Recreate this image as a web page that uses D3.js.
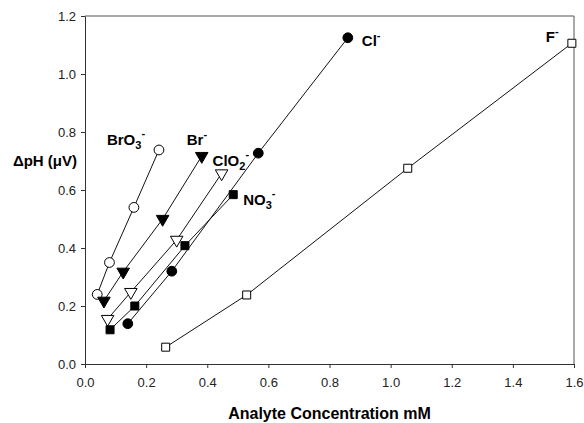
<!DOCTYPE html>
<html>
<head>
<meta charset="utf-8">
<script src="https://cdn.jsdelivr.net/npm/d3@7"></script>
<style>
  body { margin: 0; background: #fff; }
  text { font-family: "Liberation Sans", Arial, sans-serif; }
</style>
</head>
<body>
<div id="chart"></div>
<script>
// data (x in mM, y in delta pH)
const bro3X = [0.040, 0.080, 0.160, 0.242];
const bro3Y = [0.240, 0.350, 0.540, 0.738];
const brX = [0.062, 0.125, 0.254, 0.382];
const brY = [0.218, 0.318, 0.500, 0.717];
const clo2X = [0.074, 0.150, 0.300, 0.447];
const clo2Y = [0.155, 0.248, 0.428, 0.657];
const no3X = [0.082, 0.163, 0.327, 0.485];
const no3Y = [0.118, 0.200, 0.408, 0.584];
const clX = [0.140, 0.284, 0.567, 0.860];
const clY = [0.139, 0.320, 0.727, 1.125];
const fX = [0.264, 0.529, 1.056, 1.593];
const fY = [0.058, 0.238, 0.675, 1.106];

const xTicks = [0, 0.2, 0.4, 0.6, 0.8, 1.0, 1.2, 1.4, 1.6];
const yTicks = [0, 0.2, 0.4, 0.6, 0.8, 1.0, 1.2];

const seriesNames = ['BrO', 'Br', 'ClO', 'NO', 'Cl', 'F'];
const seriesSubs = ['3', '', '2', '3', '', ''];

const margin = {top: 16, right: 10, bottom: 59, left: 85};
const width = 584 - margin.left - margin.right;
const height = 423 - margin.top - margin.bottom;

const svg = d3.select('#chart').append('svg')
    .attr('width', 584)
    .attr('height', 423);

const g = svg.append('g')
    .attr('transform', 'translate(' + margin.left + ',' + margin.top + ')');

const x = d3.scaleLinear().domain([0, 1.6]).range([0, width]);
const y = d3.scaleLinear().domain([0, 1.2]).range([height, 0]);

// frame (top and right)
g.append('path')
    .attr('d', 'M0,0H' + width + 'V' + height)
    .attr('fill', 'none')
    .attr('stroke', '#555')
    .attr('stroke-width', 1);

const xAxis = d3.axisBottom(x)
    .tickValues(xTicks)
    .tickFormat(d3.format('.1f'))
    .tickSize(4)
    .tickSizeOuter(0)
    .tickPadding(10);

const yAxis = d3.axisLeft(y)
    .tickValues(yTicks)
    .tickFormat(d3.format('.1f'))
    .tickSize(4)
    .tickSizeOuter(0)
    .tickPadding(5);

g.append('g')
    .attr('transform', 'translate(0,' + height + ')')
    .call(xAxis);

g.append('g')
    .call(yAxis);

g.selectAll('.domain, .tick line').attr('stroke', '#333');
g.selectAll('.tick text')
    .attr('font-size', 13)
    .attr('fill', '#222')
    .style('font-family', '"Liberation Sans", Arial, sans-serif');

// axis titles
svg.append('text')
    .attr('x', margin.left + width / 2)
    .attr('y', 419)
    .attr('text-anchor', 'middle')
    .attr('font-size', 16)
    .attr('font-weight', 'bold')
    .text('Analyte Concentration mM');

svg.append('text')
    .attr('x', 77)
    .attr('y', 166)
    .attr('text-anchor', 'end')
    .attr('font-size', 15)
    .attr('font-weight', 'bold')
    .text('\u0394pH (\u03bcV)');

const line = d3.line()
    .x(d => x(d[0]))
    .y(d => y(d[1]));

const series = [
  {xs: bro3X, ys: bro3Y, shape: 'circle', fill: '#fff', dx: -52, dy: -5},
  {xs: brX, ys: brY, shape: 'tri', fill: '#000', dx: -15, dy: -11},
  {xs: clo2X, ys: clo2Y, shape: 'tri', fill: '#fff', dx: -9, dy: -7},
  {xs: no3X, ys: no3Y, shape: 'square', fill: '#000', dx: 10, dy: 10},
  {xs: clX, ys: clY, shape: 'circle', fill: '#000', dx: 14, dy: 8},
  {xs: fX, ys: fY, shape: 'square', fill: '#fff', dx: -26, dy: -1}
];

const symbols = {
  circle: d3.symbol().type(d3.symbolCircle).size(75),
  square: d3.symbol().type(d3.symbolSquare).size(64),
  tri: d3.symbol().type(d3.symbolTriangle).size(68)
};

series.forEach((s, i) => {
  const pts = s.xs.map((v, j) => [v, s.ys[j]]);

  g.append('path')
      .datum(pts)
      .attr('fill', 'none')
      .attr('stroke', '#111')
      .attr('stroke-width', 1)
      .attr('d', line);

  g.selectAll('.m' + i)
      .data(pts)
      .enter()
      .append('path')
      .attr('class', 'm' + i)
      .attr('d', symbols[s.shape])
      .attr('transform', d => 'translate(' + x(d[0]) + ',' + y(d[1]) + ')' +
          (s.shape === 'tri' ? ' rotate(180)' : ''))
      .attr('fill', s.fill)
      .attr('stroke', '#000')
      .attr('stroke-width', 1);

  const last = pts[pts.length - 1];
  const label = g.append('text')
      .attr('x', x(last[0]) + s.dx)
      .attr('y', y(last[1]) + s.dy)
      .attr('font-size', 15)
      .attr('font-weight', 'bold')
      .text(seriesNames[i]);
  if (seriesSubs[i]) {
    label.append('tspan')
        .attr('font-size', 11)
        .attr('dy', 4)
        .text(seriesSubs[i]);
    label.append('tspan')
        .attr('font-size', 11)
        .attr('dy', -12)
        .text('-');
  } else {
    label.append('tspan')
        .attr('font-size', 11)
        .attr('dy', -7)
        .text('-');
  }
});
</script>
</body>
</html>
